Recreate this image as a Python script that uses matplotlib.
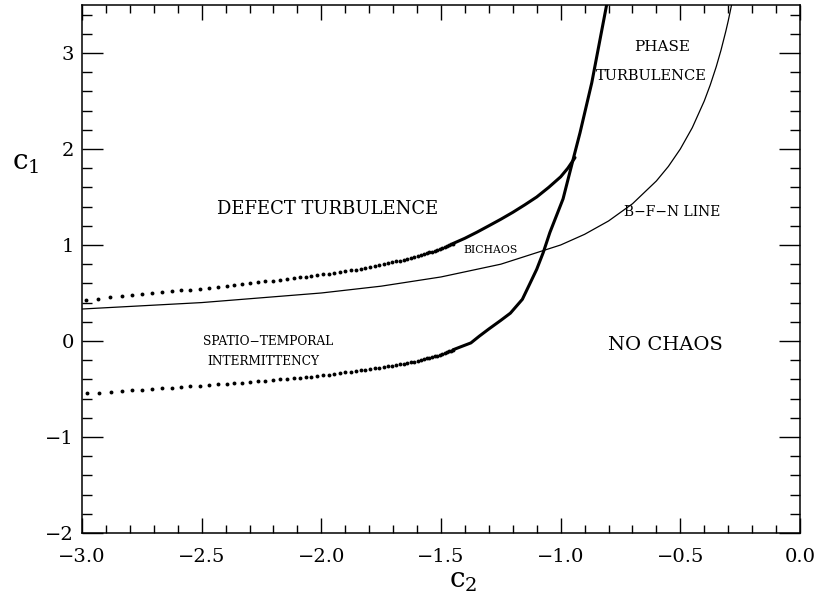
import matplotlib
matplotlib.use('Agg')
import matplotlib.pyplot as plt
from matplotlib.ticker import MultipleLocator

plt.rcParams['font.family'] = ['DejaVu Serif']
plt.rcParams['mathtext.fontset'] = 'dejavuserif'

# B-F-N line
bfn_c2 = [-3.0, -2.5, -2.0, -1.75, -1.5, -1.25, -1.0, -0.9, -0.8, -0.7, -0.6,
          -0.55, -0.5, -0.45, -0.4, -0.375, -0.35, -0.33, -0.31, -0.3, -0.286]
bfn_c1 = [0.333, 0.400, 0.500, 0.571, 0.667, 0.800, 1.000, 1.111, 1.250, 1.429, 1.667,
          1.818, 2.000, 2.222, 2.500, 2.667, 2.857, 3.030, 3.226, 3.333, 3.500]

# upper boundary (defect turbulence / bichaos): separate dots on the left
upper_dot_c2 = [-2.983, -2.932, -2.883, -2.834, -2.792, -2.750, -2.708, -2.666, -2.624,
                -2.586, -2.547, -2.508, -2.470, -2.432, -2.396, -2.363, -2.331, -2.296,
                -2.264, -2.234, -2.202, -2.172, -2.144, -2.116, -2.091, -2.066, -2.041,
                -2.016, -1.992, -1.968, -1.945, -1.922, -1.900, -1.878, -1.857, -1.836,
                -1.816, -1.796, -1.777, -1.758, -1.740, -1.722, -1.705, -1.688, -1.672,
                -1.656, -1.641, -1.626, -1.612, -1.598, -1.585, -1.572, -1.560, -1.548,
                -1.537, -1.526, -1.515, -1.505, -1.495, -1.485, -1.476, -1.467, -1.458,
                -1.450]
upper_dot_c1 = [0.429, 0.441, 0.453, 0.465, 0.475, 0.485, 0.496, 0.506, 0.517,
                0.526, 0.536, 0.546, 0.556, 0.566, 0.576, 0.585, 0.593, 0.603,
                0.611, 0.620, 0.629, 0.638, 0.647, 0.655, 0.663, 0.670, 0.678,
                0.685, 0.693, 0.702, 0.711, 0.719, 0.728, 0.736, 0.744, 0.752,
                0.759, 0.767, 0.778, 0.789, 0.799, 0.809, 0.819, 0.828, 0.838,
                0.847, 0.857, 0.867, 0.878, 0.888, 0.897, 0.907, 0.915, 0.924,
                0.932, 0.940, 0.948, 0.956, 0.965, 0.977, 0.986, 0.996, 1.006,
                1.015]
# ... where the dots run together into a thick line
upper_c2 = [-1.450, -1.400, -1.350, -1.300, -1.250, -1.200, -1.150, -1.100, -1.050,
            -1.000, -0.970, -0.940]
upper_c1 = [1.015, 1.070, 1.133, 1.200, 1.268, 1.340, 1.418, 1.500, 1.600,
            1.710, 1.800, 1.910]

# lower boundary (spatio-temporal intermittency)
lower_dot_c2 = [-2.980, -2.930, -2.880, -2.832, -2.790, -2.748, -2.706, -2.664, -2.624,
                -2.586, -2.547, -2.508, -2.470, -2.432, -2.396, -2.363, -2.331, -2.296,
                -2.264, -2.234, -2.202, -2.172, -2.144, -2.116, -2.091, -2.066, -2.041,
                -2.016, -1.992, -1.968, -1.945, -1.922, -1.900, -1.878, -1.857, -1.836,
                -1.816, -1.796, -1.777, -1.758, -1.740, -1.722, -1.705, -1.688, -1.672,
                -1.656, -1.641, -1.626, -1.612, -1.598, -1.585, -1.572, -1.560, -1.548,
                -1.537, -1.526, -1.515, -1.505, -1.495, -1.485, -1.476, -1.467, -1.458,
                -1.450]
lower_dot_c1 = [-0.545, -0.537, -0.528, -0.520, -0.514, -0.507, -0.500, -0.493, -0.486,
                -0.480, -0.474, -0.467, -0.460, -0.453, -0.446, -0.440, -0.434, -0.427,
                -0.421, -0.414, -0.407, -0.400, -0.394, -0.387, -0.382, -0.376, -0.370,
                -0.365, -0.358, -0.350, -0.342, -0.334, -0.327, -0.320, -0.313, -0.306,
                -0.299, -0.292, -0.286, -0.280, -0.273, -0.265, -0.257, -0.249, -0.242,
                -0.235, -0.228, -0.221, -0.214, -0.208, -0.199, -0.190, -0.182, -0.174,
                -0.167, -0.159, -0.152, -0.145, -0.136, -0.126, -0.117, -0.109, -0.100,
                -0.092]
# thick part, turning into the steep line up to the top
lower_c2 = [-1.450, -1.420, -1.375, -1.340, -1.300, -1.250, -1.210, -1.160, -1.130,
            -1.100, -1.073, -1.045, -0.990, -0.947, -0.919, -0.870, -0.808]
lower_c1 = [-0.092, -0.063, -0.020, 0.050, 0.125, 0.215, 0.290, 0.434, 0.590,
            0.747, 0.920, 1.130, 1.480, 1.900, 2.170, 2.690, 3.500]

fig = plt.figure(figsize=(8.14, 5.93), dpi=100)
ax = fig.add_axes([0.1007, 0.1012, 0.8821, 0.8904])

ax.plot(bfn_c2, bfn_c1, color='black', lw=0.9)

ax.plot(upper_dot_c2, upper_dot_c1, 'o', color='black', ms=2.8, mec='none')
ax.plot(upper_c2, upper_c1, color='black', lw=2.2, solid_capstyle='round',
        solid_joinstyle='round')
ax.plot(lower_dot_c2, lower_dot_c1, 'o', color='black', ms=2.8, mec='none')
ax.plot(lower_c2, lower_c1, color='black', lw=2.2, solid_capstyle='round',
        solid_joinstyle='round')

# region labels
ax.text(-1.972, 1.372, 'DEFECT TURBULENCE', fontsize=13, ha='center', va='center')
ax.text(-0.578, 3.06, 'PHASE', fontsize=11, ha='center', va='center')
ax.text(-0.620, 2.76, 'TURBULENCE', fontsize=10.5, ha='center', va='center')
ax.text(-0.536, 1.348, 'B\u2212F\u2212N LINE', fontsize=10, ha='center', va='center')
ax.text(-1.295, 0.945, 'BICHAOS', fontsize=7.8, ha='center', va='center')
ax.text(-2.222, -0.01, 'SPATIO\u2212TEMPORAL', fontsize=8.8, ha='center', va='center')
ax.text(-2.243, -0.215, 'INTERMITTENCY', fontsize=8.7, ha='center', va='center')
ax.text(-0.564, -0.045, 'NO CHAOS', fontsize=14, ha='center', va='center')

ax.set_xlim(-3.0, 0.0)
ax.set_ylim(-2.0, 3.5)
ax.xaxis.set_major_locator(MultipleLocator(0.5))
ax.xaxis.set_minor_locator(MultipleLocator(0.1))
ax.yaxis.set_major_locator(MultipleLocator(1))
ax.yaxis.set_minor_locator(MultipleLocator(0.2))

ax.tick_params(which='both', direction='in', top=True, right=True, width=1.0)
ax.tick_params(axis='x', which='major', length=10.5, pad=11, labelsize=14)
ax.tick_params(axis='x', which='minor', length=5.5)
ax.tick_params(axis='y', which='major', length=15, pad=6, labelsize=14)
ax.tick_params(axis='y', which='minor', length=7.5)
for spine in ax.spines.values():
    spine.set_linewidth(1.1)

# axis names sit off-centre, as in the original
ax.text(-3.235, 1.86, r'$\mathrm{c}_1$', fontsize=20, ha='center', va='center')
ax.text(-1.408, -2.50, r'$\mathrm{c}_2$', fontsize=20, ha='center', va='center')

fig.savefig('out.png', dpi=100)
